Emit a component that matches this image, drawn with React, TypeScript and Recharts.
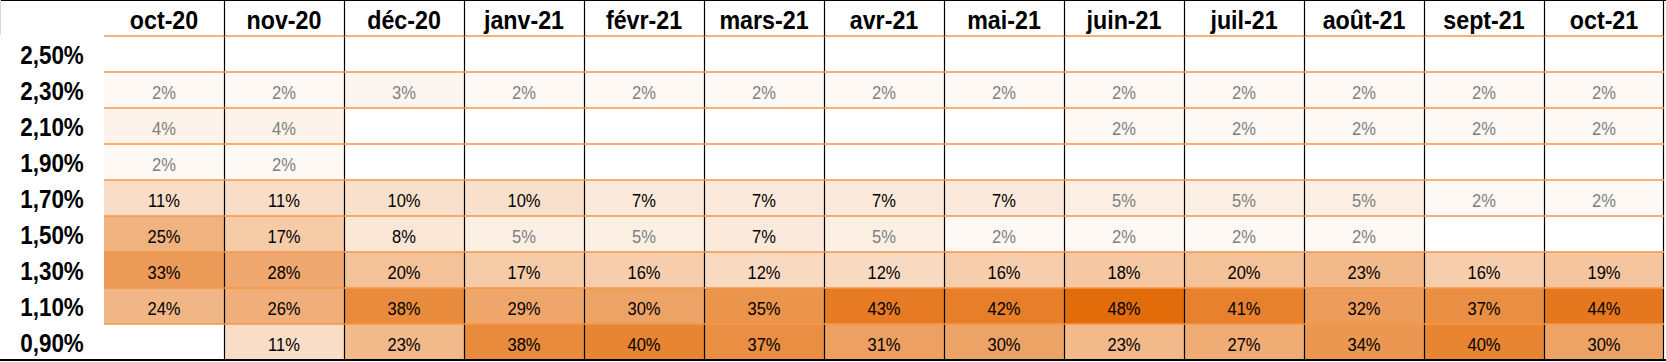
import React from 'react';
import { BarChart, Bar, XAxis, YAxis, ReferenceLine } from 'recharts';

// Column categories (months)
const months = ['oct-20', 'nov-20', 'déc-20', 'janv-21', 'févr-21', 'mars-21', 'avr-21', 'mai-21', 'juin-21', 'juil-21', 'août-21', 'sept-21', 'oct-21'];

// Row labels, bottom to top
const rateLabels = ['0,90%', '1,10%', '1,30%', '1,50%', '1,70%', '1,90%', '2,10%', '2,30%', '2,50%'];

// Values (%) per row, one per month; null = empty cell
const r090 = [null, 11, 23, 38, 40, 37, 31, 30, 23, 27, 34, 40, 30];
const r110 = [24, 26, 38, 29, 30, 35, 43, 42, 48, 41, 32, 37, 44];
const r130 = [33, 28, 20, 17, 16, 12, 12, 16, 18, 20, 23, 16, 19];
const r150 = [25, 17, 8, 5, 5, 7, 5, 2, 2, 2, 2, null, null];
const r170 = [11, 11, 10, 10, 7, 7, 7, 7, 5, 5, 5, 2, 2];
const r190 = [2, 2, null, null, null, null, null, null, null, null, null, null, null];
const r210 = [4, 4, null, null, null, null, null, null, 2, 2, 2, 2, 2];
const r230 = [2, 2, 3, 2, 2, 2, 2, 2, 2, 2, 2, 2, 2];
const r250 = [null, null, null, null, null, null, null, null, null, null, null, null, null];

const rows: (number | null)[][] = [r090, r110, r130, r150, r170, r190, r210, r230, r250];

const CHART_W = 1666;
const CHART_H = 362;
const Y_AXIS_W = 104;
const X_AXIS_H = 36;
const MARGIN = { top: 0, right: 2, bottom: 2, left: 0 };
const COL_W = (CHART_W - Y_AXIS_W - MARGIN.left - MARGIN.right) / months.length;

const ORANGE_LINE = '#F79646';
const maxVal = Math.max(...rows.flat().filter((v): v is number => v != null));
const LO = [255, 255, 255];
const HI = [227, 108, 10];

function cellColor(v: number | null | undefined): string {
  if (v == null) return '#FFFFFF';
  const t = v / maxVal;
  const c = LO.map((l, i) => Math.round(l + (HI[i] - l) * t));
  return `rgb(${c[0]},${c[1]},${c[2]})`;
}

const data = months.map((m, i) => {
  const o: Record<string, any> = { month: m };
  rows.forEach((r, j) => {
    o['v' + j] = r[i];
    o['s' + j] = 1; // each row occupies one band of the stack
  });
  return o;
});

const makeShape = (j: number) => (props: any) => {
  const { x, y, width, height, payload, index } = props;
  const v = payload['v' + j];
  const xl = Math.round(x) + 0.5;
  const xr = Math.round(x + width) - 0.5;
  const isLast = index === months.length - 1;
  return (
    <g>
      <rect x={x} y={y} width={width} height={height} fill={cellColor(v)} />
      {index > 0 && (
        <line x1={xl} x2={xl} y1={y} y2={y + height} stroke="#000" strokeWidth={1.2} />
      )}
      {isLast && (
        <line x1={xr} x2={xr} y1={y} y2={y + height} stroke="#000" strokeWidth={1.2} />
      )}
      {v != null && (
        <text
          transform={`translate(${x + width / 2},${y + height / 2 + 8.5}) scale(0.87,1)`}
          textAnchor="middle"
          fontFamily="'Liberation Sans', Arial, sans-serif"
          fontSize={19}
          fill={v <= 5 ? '#7F7F7F' : '#000000'}
        >
          {v}%
        </text>
      )}
    </g>
  );
};

const HeaderTick = (props: any) => {
  const { x, payload, index } = props;
  const isLast = index === months.length - 1;
  const xl = Math.round(x - COL_W / 2) + 0.5;
  const xr = Math.round(x + COL_W / 2) - 0.5;
  return (
    <g>
      {index > 0 && <line x1={xl} x2={xl} y1={0} y2={X_AXIS_H} stroke="#000" strokeWidth={1.2} />}
      {isLast && <line x1={xr} x2={xr} y1={0} y2={X_AXIS_H} stroke="#000" strokeWidth={1.2} />}
      <text
        transform={`translate(${x},28.5) scale(0.93,1)`}
        textAnchor="middle"
        fontFamily="'Liberation Sans', Arial, sans-serif"
        fontWeight="bold"
        fontSize={25}
        fill="#000"
      >
        {payload.value}
      </text>
    </g>
  );
};

const RowTick = (props: any) => {
  const { y, index } = props;
  return (
    <text
      transform={`translate(${Y_AXIS_W / 2},${y + 10.3}) scale(0.88,1)`}
      textAnchor="middle"
      fontFamily="'Liberation Sans', Arial, sans-serif"
      fontWeight="bold"
      fontSize={25.5}
      fill="#000"
    >
      {rateLabels[index]}
    </text>
  );
};

export default function App() {
  return (
    <div style={{ position: 'absolute', left: 0, top: 0, width: CHART_W, height: CHART_H, background: '#fff' }}>
      <BarChart
        width={CHART_W}
        height={CHART_H}
        data={data}
        margin={MARGIN}
        barCategoryGap={0}
        barGap={0}
      >
        <XAxis
          dataKey="month"
          orientation="top"
          height={X_AXIS_H}
          axisLine={false}
          tickLine={false}
          interval={0}
          tick={<HeaderTick />}
        />
        <YAxis
          type="number"
          domain={[0, rateLabels.length]}
          ticks={rateLabels.map((_, i) => i + 0.5)}
          width={Y_AXIS_W}
          axisLine={false}
          tickLine={false}
          interval={0}
          tick={<RowTick />}
        />
        {rows.map((_, j) => (
          <Bar
            key={j}
            dataKey={'s' + j}
            stackId="heat"
            isAnimationActive={false}
            shape={makeShape(j)}
          />
        ))}
        {rateLabels.map((_, i) => (
          <ReferenceLine key={i} y={i + 1} stroke={ORANGE_LINE} strokeWidth={1.3} />
        ))}
      </BarChart>
      <div style={{ position: 'absolute', left: 0, top: 0, width: CHART_W, height: 1.3, background: '#000' }} />
      <div style={{ position: 'absolute', left: 0, top: 359, width: CHART_W, height: 1.6, background: '#000' }} />
      <div style={{ position: 'absolute', left: 0, top: 0, width: 1, height: 35, background: '#D9D9D9' }} />
    </div>
  );
}
